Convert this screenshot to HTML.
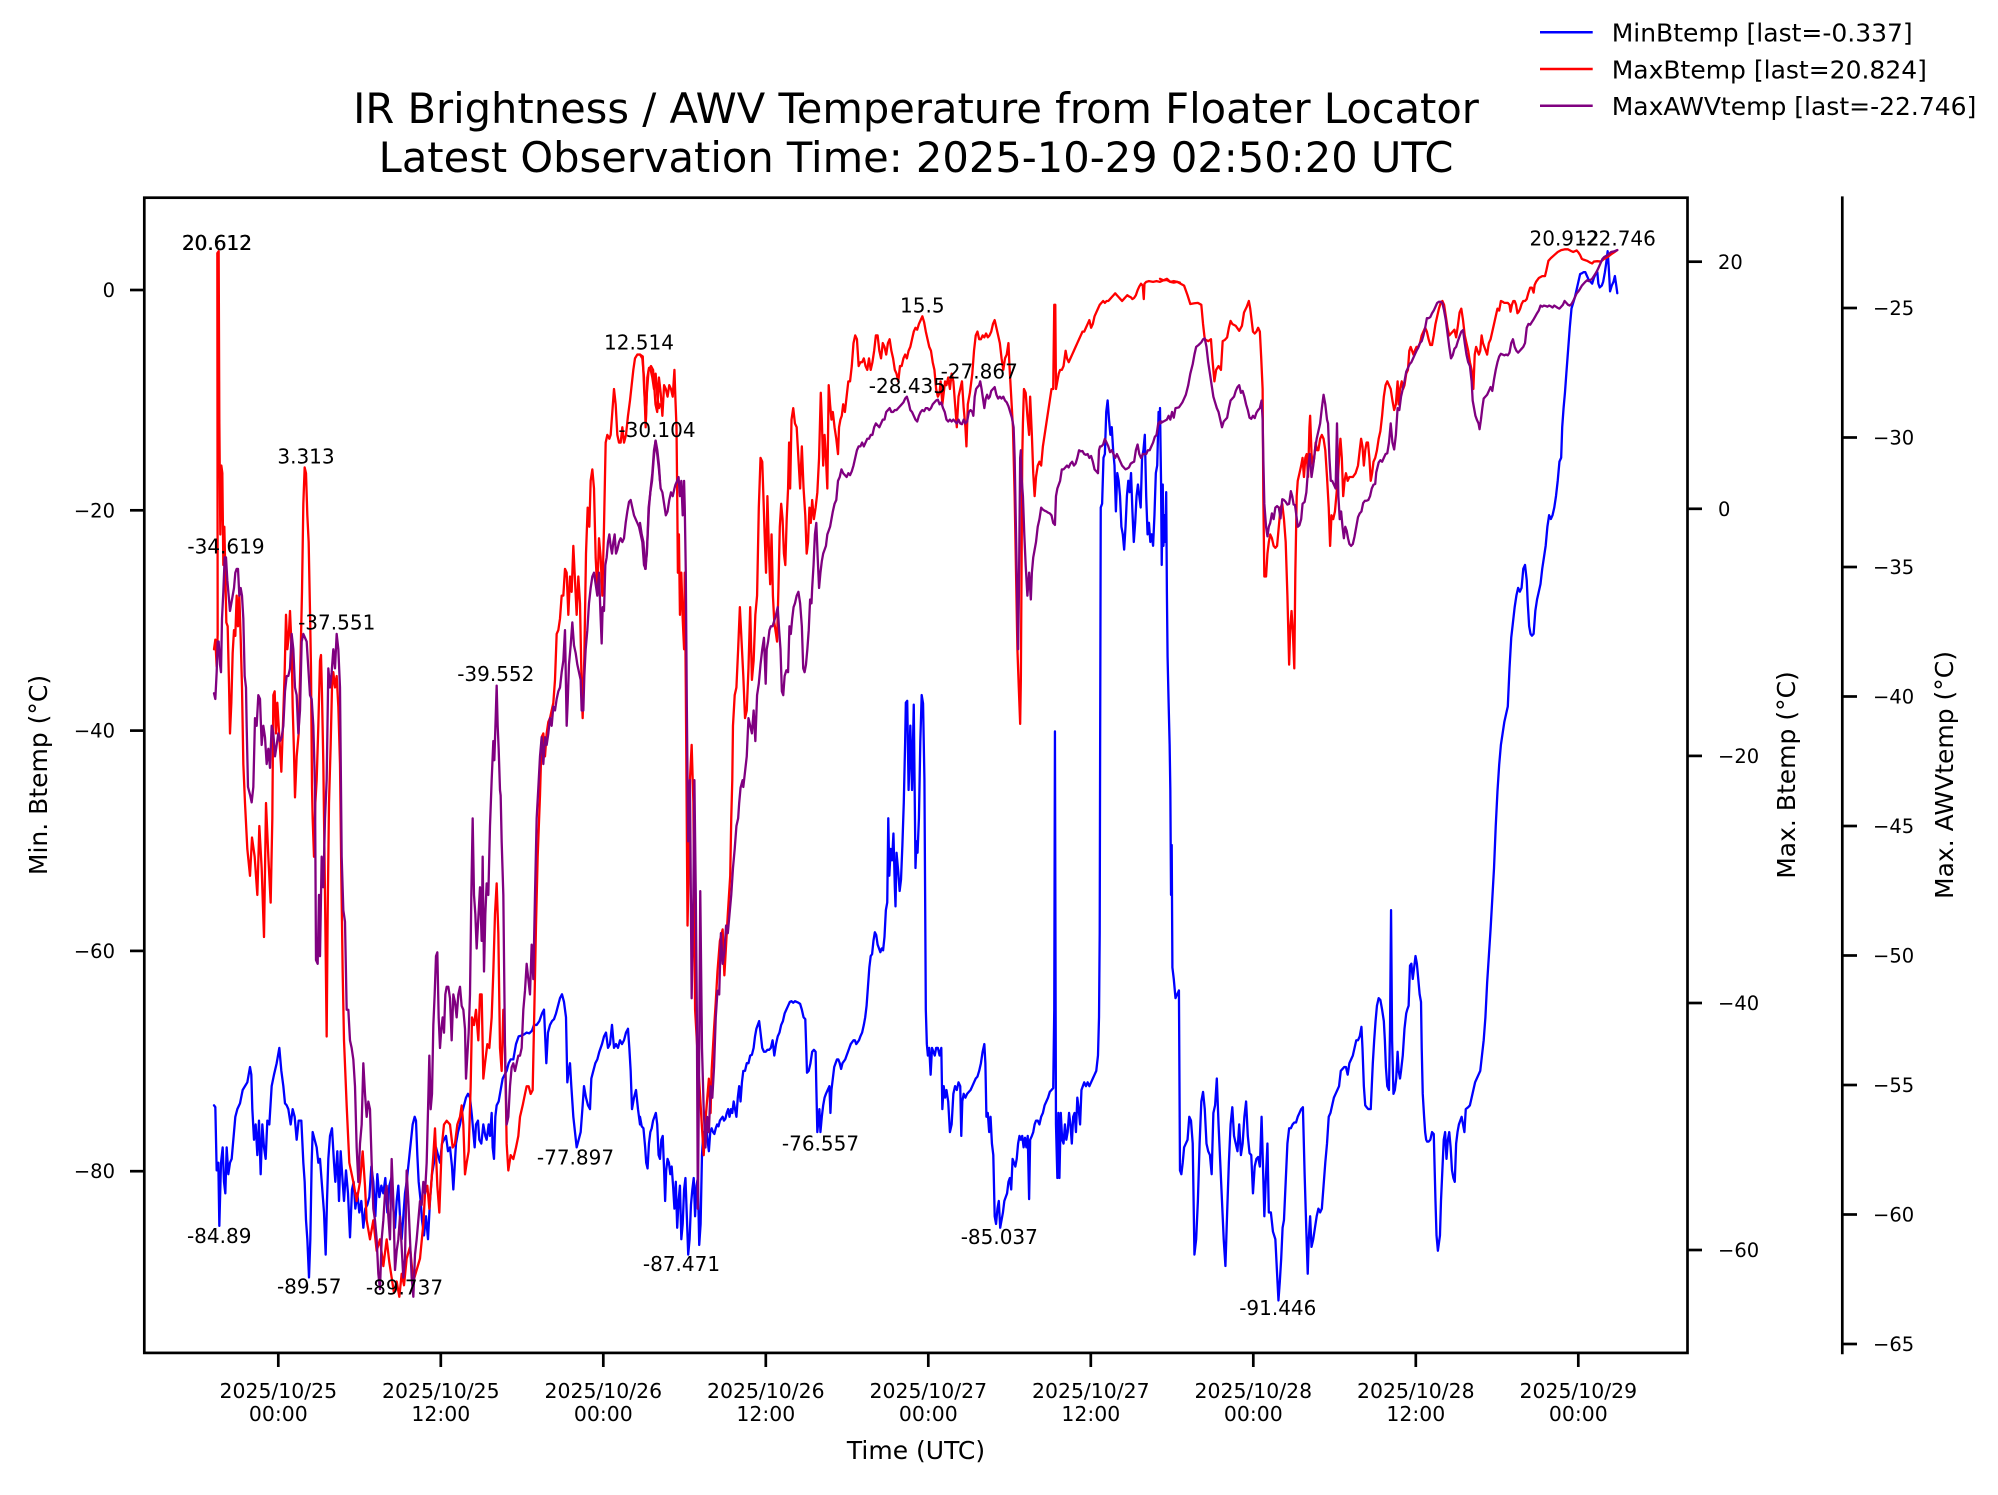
<!DOCTYPE html>
<html><head><meta charset="utf-8"><style>
html,body{margin:0;padding:0;background:#fff;}
svg{display:block;}
text{font-family:"DejaVu Sans","Liberation Sans",sans-serif;fill:#000;}
.tk{font-size:19.5px;}
.tx{font-size:20.4px;}
.an{font-size:20px;}
.lb{font-size:25px;}
.sp{stroke:#000;stroke-width:2.7;fill:none;}
.b,.r,.p{fill:none;stroke-width:2.3;stroke-linejoin:round;stroke-linecap:round;vector-effect:non-scaling-stroke;}
.b{stroke:#0000ff;}.r{stroke:#ff0000;}.p{stroke:#800080;}
</style></head><body>
<svg width="1998" height="1495" viewBox="0 0 1998 1495" xmlns="http://www.w3.org/2000/svg">
<rect width="1998" height="1495" fill="#fff"/>
<defs><clipPath id="c"><rect x="144.3" y="197.7" width="1543.2" height="1155.2"/></clipPath></defs>

<text x="916" y="123" text-anchor="middle" style="font-size:41.6px">IR Brightness / AWV Temperature from Floater Locator</text>
<text x="916" y="172" text-anchor="middle" style="font-size:41.6px">Latest Observation Time: 2025-10-29 02:50:20 UTC</text>

<g clip-path="url(#c)">
<!-- BLUE -->
<g transform="translate(140,780) scale(0.33333,0.38270)">
<polyline class="b" points="222,850 226,855 230,1020 235,1000 238,1165 243,1000 248,960 252,1050 256,1080 260,960 265,1030 270,1000 275,990 280,940 286,880 292,860 300,845 308,810 315,800 322,790 330,750 334,770 337,860 342,940 347,900 352,980 357,890 362,1030 367,900 372,960 377,990 382,890 388,900 395,800 402,770 410,740 418,700 424,760 430,800 435,845 440,850 445,860 452,900 458,860 464,880 470,940 476,890 484,890 490,1000 494,1050 498,1150 502,1200 507,1300 511,1200 515,1000 518,920 524,940 530,960 535,1000 540,990 546,1060 552,1130 557,1240 561,1100 565,990 570,930 576,910 582,1000 586,1050 592,970 597,1100 602,970 608,1050 612,1100 618,1020 624,1080 630,1195 636,1070 641,1050 646,1120 652,1080 658,1130 664,1100 670,1170 676,1120 682,1110 688,1090 694,1010 700,1050 706,1140 712,1030 718,1090 724,1060 730,1080 736,1040 742,1130 748,1060 754,1040 760,1120 765,1170 770,1100 775,1060 780,1140 785,1200 790,1140 795,1080 800,1050 806,1000 812,950 818,900 824,880 828,890 832,980 836,1050 842,1100 846,1150 852,1190 858,1140 864,1200 870,1100 876,1030 882,1000 888,960 894,980 900,1000 906,950 912,940 918,930 924,970 930,960 936,1010 940,1070 944,1010 948,950 954,920 960,900 966,870 972,850 978,830 984,820 990,830 996,880 1000,920 1004,960 1008,900 1014,890 1018,940 1024,950 1030,900 1036,930 1040,940 1046,900 1050,930 1055,870 1058,960 1062,990 1066,880 1070,850 1076,840 1082,810 1088,780 1094,770 1100,760 1106,740 1112,730 1120,730 1128,690 1136,670 1144,668 1152,665 1160,660 1168,662 1176,655 1182,640 1190,640 1198,630 1206,610 1212,600 1216,680 1219,740 1224,660 1230,640 1236,630 1242,625 1248,610 1254,590 1260,570 1266,560 1272,580 1278,620 1282,790 1286,760 1290,740 1294,800 1300,880 1305,920 1310,960 1316,940 1322,920 1328,850 1332,800 1338,830 1344,850 1350,860 1354,780 1360,760 1366,740 1372,730 1378,710 1386,690 1392,670 1398,660 1404,700 1410,690 1416,640 1422,700 1428,690 1434,700 1440,680 1446,690 1452,680 1458,660 1464,650 1468,700 1472,760 1476,860 1482,830 1488,810 1494,860 1500,900"/>
</g>
<g transform="translate(640,780) scale(0.34435,0.38270)">
<polyline class="b" points="0,880 5,905 10,910 15,960 18,1000 22,1015 26,950 30,920 34,910 38,890 42,880 46,870 50,900 54,980 58,990 62,940 66,930 70,1020 73,1100 76,1020 80,990 84,1000 88,1030 92,1010 96,1060 100,1120 104,1050 108,1170 112,1100 116,1060 120,1200 124,1160 128,1070 132,1040 136,1140 140,1240 144,1200 148,1110 152,1070 156,1040 160,1140 164,1060 168,1040 172,1215 176,1160 180,980 184,920 188,930 192,900 196,940 200,970 204,920 208,910 212,920 216,925 220,910 224,900 228,905 232,890 236,885 240,880 244,890 248,885 252,870 256,860 260,880 264,860 268,870 272,840 276,860 280,880 284,830 288,800 292,840 296,790 300,760 305,760 310,740 315,740 320,720 325,718 330,700 334,670 338,650 342,640 346,630 350,660 355,700 360,710 365,710 370,705 375,705 380,700 385,680 390,720 395,690 400,670 405,660 410,640 415,630 420,610 425,600 430,590 435,580 440,578 445,582 450,578 455,580 460,582 465,585 470,600 475,620 480,625 482,680 485,765 490,760 495,740 500,710 505,705 510,710 512,800 515,920 518,890 521,860 524,920 528,880 532,850 536,830 540,820 545,810 550,800 553,870 556,810 560,780 564,750 568,740 572,730 576,730 580,740 584,755 588,740 592,735 596,730 600,720 604,710 608,700 612,690 616,685 620,680 624,680 628,690 632,685 636,680 640,670 645,660 650,640 654,620 658,590 662,540 666,490 670,460 674,455 678,420 682,398 686,405 690,430 694,440 698,450 702,440 706,445 710,410 714,340 718,320 721,100 724,250 728,180 732,210 736,140 740,280 742,330 745,190 750,240 754,290 758,260 762,170 766,60 770,-100 772,-202 776,-207 780,26 785,-142 790,26 795,-197 800,230 803,160 806,190 810,100 814,-100 818,-222 822,-200 826,0 828,300 830,600 833,690 836,720 840,700 844,770 848,700 852,710 856,720 860,700 865,700 870,720 875,700 878,860 882,800 886,830 890,810 895,840 900,920 905,900 910,820 915,800 920,810 925,790 930,800 933,930 936,840 940,820 945,830 950,820 955,815 960,810 965,800 970,790 975,780 980,775 985,760 990,740 995,710 1000,690 1003,740 1006,880 1010,870 1014,920 1018,880 1022,950 1026,980 1030,1140 1034,1160 1038,1120 1042,1100 1046,1170 1050,1150 1054,1130 1058,1100 1062,1090 1066,1080 1070,1050 1074,1040 1078,1070 1082,990 1086,1000 1090,1010 1094,990 1098,950 1102,930 1106,940 1110,930 1114,960 1118,935 1122,960 1126,930 1130,1095 1133,940 1138,930 1142,920 1146,900 1150,890 1155,890 1160,900 1165,880 1170,870 1175,850 1180,840 1185,830 1190,815 1195,810 1200,805 1203,600 1205,-127 1207,600 1208,900 1212,1040 1215,870 1218,1040 1222,870 1226,940 1230,950 1234,900 1238,940 1242,920 1246,870 1250,900 1254,950 1258,880 1262,870 1266,920 1270,830 1274,860 1278,900 1282,810 1286,800 1290,790 1295,800 1300,790 1305,800 1310,790 1315,780 1320,770 1325,760 1330,720 1333,620 1335,400 1336,0 1338,-712 1342,-722 1346,-842 1350,-852 1354,-962 1358,-992 1362,-942 1366,-902 1370,-922 1374,-862 1378,-822 1382,-702 1386,-802 1390,-782 1394,-742 1398,-662 1402,-642 1406,-602 1410,-662 1414,-742 1418,-782 1422,-752 1426,-802 1430,-702 1434,-622 1438,-672 1442,-742 1446,-772 1450,-742 1454,-712 1458,-842 1462,-862 1466,-902 1470,-742 1474,-642 1478,-672 1482,-622 1486,-642 1490,-612 1494,-692 1498,-802 1502,-822 1506,-962"/>
</g>
<g transform="translate(1160,780) scale(0.34435,0.38270)">
<polyline class="b" points="0,-972 3,-782 5,-562 8,-772 10,-612 13,-692 16,-622 18,-752 20,-492 22,-322 25,-202 28,-92 30,26 32,300 34,170 36,490 40,520 45,570 50,560 55,550 58,1020 62,1030 66,1000 70,960 75,950 80,940 85,880 90,890 95,950 100,1240 105,1200 110,1100 115,950 120,840 125,815 130,860 135,950 140,970 145,980 150,1030 155,870 160,850 165,780 170,900 175,1000 180,1100 185,1200 190,1270 195,1130 200,1000 205,900 210,855 215,930 220,950 225,970 230,900 235,980 240,950 245,880 250,840 255,930 260,975 265,980 270,1080 275,1010 280,990 285,985 290,1010 295,880 300,1040 303,1140 307,1050 312,950 316,1130 322,1130 328,1180 335,1200 340,1290 344,1360 348,1310 352,1250 356,1170 360,1150 365,1050 370,950 375,910 380,910 385,900 390,895 395,895 400,880 405,870 410,860 415,855 420,1030 425,1180 429,1290 432,1200 436,1140 440,1220 445,1200 450,1170 455,1140 460,1120 465,1130 470,1120 475,1060 480,1000 485,950 490,880 495,870 500,850 505,830 510,820 515,810 520,800 525,760 530,755 535,750 540,750 545,770 550,740 555,730 560,720 565,700 570,680 575,680 580,670 585,645 588,700 592,800 596,850 600,855 605,860 612,860 615,800 618,740 622,680 626,630 630,590 635,570 640,575 645,600 650,630 653,680 656,750 660,800 665,810 668,650 671,340 674,680 678,820 682,810 686,780 690,710 693,760 697,780 700,760 705,720 710,650 715,610 718,600 722,590 726,485 730,480 734,520 738,490 742,460 746,480 750,520 754,560 758,580 760,700 763,820 767,880 770,920 773,940 776,945 780,945 785,940 790,920 795,925 800,1100 803,1190 807,1230 810,1210 813,1190 816,1100 820,1020 824,940 828,920 832,990 836,940 840,920 844,960 848,1020 852,1040 856,1050 860,950 864,920 868,900 872,890 876,880 880,900 884,920 888,860 895,855 900,850 905,830 910,810 915,790 920,780 925,770 930,760 935,720 940,680 945,620 950,530 955,460 960,390 965,310 970,230 975,120 980,30 985,-40 990,-92 995,-122 1000,-152 1005,-172 1010,-192 1015,-292 1020,-372 1025,-412 1030,-452 1035,-482 1040,-502 1045,-492 1050,-502 1055,-552 1060,-562 1065,-522 1068,-462 1072,-402 1076,-382 1080,-377 1085,-382 1090,-442 1095,-472 1100,-492 1105,-512 1110,-552 1115,-582 1120,-612 1125,-662 1130,-692 1135,-682 1140,-692 1145,-712 1150,-742 1155,-782 1160,-832 1165,-842 1168,-922 1172,-972 1176,-1012 1180,-1062 1185,-1122 1190,-1182 1195,-1232 1200,-1247 1205,-1262 1210,-1282 1215,-1302 1220,-1322 1225,-1324 1230,-1327 1235,-1327 1240,-1317 1245,-1307 1250,-1302 1255,-1297 1260,-1312 1265,-1322 1270,-1327 1273,-1297 1277,-1287 1283,-1292 1287,-1302 1292,-1327 1296,-1352 1300,-1382 1303,-1342 1307,-1277 1312,-1292 1317,-1302 1321,-1317 1325,-1292 1328,-1272"/>
</g>

<!-- RED -->
<g transform="translate(140,190) scale(0.33333,0.38270)">
<polyline class="r" points="222,1200 226,1175 230,1245 233,1160 232,165 236,160 238,600 241,900 244,720 247,740 250,980 253,880 256,1000 259,1130 263,1140 267,1290 270,1420 274,1340 278,1210 282,1150 286,1165 290,1060 294,1140 298,1060 302,1170 306,1300 310,1500 315,1602 322,1722 330,1792 336,1692 344,1742 352,1842 358,1662 365,1772 372,1952 378,1602 385,1742 392,1862 397,1642 400,1320 404,1310 408,1420 412,1340 418,1430 424,1520 428,1420 434,1260 438,1110 442,1200 446,1170 450,1100 455,1200 458,1350 462,1470 465,1587 470,1480 476,1420 482,1210 486,1050 490,820 494,725 498,740 502,850 506,920 510,1100 513,1250 516,1560 518,1642 522,1742 526,1602 530,1542 535,1400 540,1230 543,1215 546,1320 550,1500 555,1842 560,2212 563,1892 567,1602 572,1450 576,1300 580,1260 585,1300 590,1270 595,1350 600,1500 604,1792 608,2042 612,2222 620,2392 628,2542 640,2592 650,2642 660,2592 668,2512 675,2602 680,2692 690,2742 700,2692 710,2772 720,2742 730,2812 740,2742 748,2802 755,2842 762,2882 770,2852 778,2892 785,2832 792,2862 800,2792 810,2762 820,2852 830,2822 840,2792 850,2702 855,2622 862,2602 868,2662 875,2582 880,2522 885,2452 892,2602 898,2672 905,2502 912,2442 920,2432 930,2442 938,2502 945,2492 952,2442 960,2422 965,2392 970,2442 975,2572 980,2542 986,2512 992,2342 996,2162 1002,2182 1008,2142 1015,2222 1020,2102 1025,2102 1030,2322 1035,2282 1042,2232 1048,2242 1055,2162 1060,2042 1065,1892 1070,1812 1075,1942 1080,2242 1085,2302 1090,2142 1095,2242 1100,2492 1105,2562 1112,2522 1120,2532 1128,2502 1135,2472 1140,2422 1148,2392 1155,2362 1160,2342 1166,2342 1172,2362 1178,2352 1183,2142 1188,1922 1193,1742 1200,1582 1205,1430 1210,1420 1215,1480 1220,1420 1225,1390 1230,1380 1235,1360 1240,1340 1245,1280 1250,1160 1255,1150 1260,1120 1265,1060 1270,1060 1275,990 1280,1000 1285,1110 1290,1010 1295,1050 1300,930 1305,1020 1310,1110 1315,1010 1320,1080 1325,1300 1328,1380 1333,1220 1338,950 1343,830 1348,880 1352,760 1357,730 1362,780 1367,960 1372,1050 1377,910 1382,960 1387,1060 1392,880 1397,660 1402,640 1408,650 1412,640 1417,580 1422,520 1427,560 1432,640 1437,660 1442,660 1447,620 1452,660 1458,640 1464,590 1470,550 1475,510 1480,470 1485,440 1492,430 1500,430 1507,440 1512,490 1517,620 1522,490 1527,465 1532,470 1537,490 1542,520 1547,480 1552,540 1557,570 1560,560"/>
</g>
<g transform="translate(640,190) scale(0.34435,0.38270)">
<polyline class="r" points="0,430 8,435 12,520 17,600 20,530 25,470 32,460 38,470 45,560 50,580 55,490 60,530 65,590 70,510 75,520 80,540 85,510 90,520 95,540 100,470 103,550 106,620 108,790 110,1000 113,900 116,1110 120,1000 124,1120 128,1200 130,1000 133,1300 136,1672 138,1922 142,1742 145,1542 150,1450 155,1600 160,2142 170,2300 180,2450 185,2522 190,2432 200,2322 205,2412 208,2302 215,2192 220,2122 225,2042 232,1962 240,1932 245,2052 250,1972 255,1892 262,1792 265,1642 268,1542 270,1400 275,1320 280,1300 285,1200 290,1090 295,1180 300,1270 305,1380 310,1360 315,1250 320,1090 325,1280 330,1230 335,1110 340,1060 345,830 350,700 355,710 358,790 362,900 366,1000 370,800 375,960 378,1030 382,900 386,1060 390,1130 395,1160 398,1180 402,1040 406,880 410,820 414,860 418,950 422,980 426,860 430,780 433,660 436,780 440,600 445,570 450,610 455,620 460,700 465,780 470,670 475,780 480,850 484,950 488,920 492,830 496,870 500,810 505,860 510,830 515,790 520,700 525,530 528,600 532,720 536,640 540,700 544,780 548,510 552,560 556,600 560,580 565,620 570,650 575,690 578,620 582,600 586,590 590,560 595,580 600,540 605,500 610,500 615,460 620,400 625,380 630,390 635,460 640,450 645,450 650,440 655,460 660,470 665,440 670,470 675,450 680,420 685,380 690,380 695,420 700,440 705,400 710,410 715,430 720,400 725,390 730,420 735,440 740,470 745,480 750,500 755,460 760,460 765,440 770,430 775,440 780,420 785,410 790,390 795,370 800,360 805,365 810,350 815,340 820,330 825,345 830,370 835,390 840,410 845,420 850,450 855,470 860,520 865,540 870,530 873,500 878,560 882,530 886,500 890,510 895,490 900,520 905,480 910,500 915,560 920,620 925,540 930,520 935,500 940,570 945,620 948,670 952,560 958,530 965,480 970,420 975,380 980,370 985,390 990,390 995,380 1000,385 1005,375 1010,385 1015,380 1020,370 1025,350 1030,340 1035,360 1040,380 1045,400 1050,440 1055,470 1060,440 1065,430 1070,400 1073,460 1078,540 1083,620 1088,800 1092,1000 1096,1200 1100,1300 1104,1395 1106,1280 1108,1000 1110,700 1112,610 1115,520 1120,530 1125,590 1130,640 1133,540 1138,640 1142,740 1146,800 1150,750 1155,720 1160,710 1165,720 1170,670 1175,640 1180,610 1185,580 1190,550 1195,520 1200,520 1203,300 1206,300 1208,520 1212,500 1216,480 1220,470 1225,470 1230,460 1236,420 1240,440 1245,450 1250,440 1255,430 1260,420 1265,410 1270,400 1275,390 1280,380 1285,370 1290,370 1295,360 1300,350 1305,340 1310,360 1315,350 1320,330 1325,320 1330,310 1335,300 1340,295 1345,290 1350,295 1355,290 1360,290 1365,285 1370,280 1375,275 1380,270 1385,275 1390,280 1395,285 1400,290 1405,285 1410,280 1415,275 1420,278 1425,280 1430,285 1435,282 1440,275 1445,262 1450,252 1455,245 1460,250 1463,285 1465,245 1470,240 1478,238 1490,240 1500,238 1510,240 1520,236 1530,235 1540,240 1550,242 1560,240 1568,242"/>
</g>
<g transform="translate(1160,190) scale(0.34435,0.38270)">
<polyline class="r" points="0,232 10,236 20,232 30,240 40,238 50,240 60,245 70,250 80,275 88,298 100,296 110,295 120,300 125,350 130,390 140,395 148,390 152,440 158,500 163,470 170,460 177,470 182,395 188,392 195,385 200,360 205,342 210,350 220,355 230,368 238,355 244,320 252,305 258,290 262,310 266,340 270,370 275,375 280,370 285,360 290,370 294,440 298,520 300,800 303,1010 308,1010 312,950 316,920 320,900 325,910 330,930 335,935 340,930 345,880 350,830 355,820 360,860 365,920 370,1060 375,1240 378,1150 382,1100 386,1160 390,1250 393,1000 397,800 400,760 405,740 410,720 414,700 418,750 422,700 426,690 430,750 434,620 436,590 440,690 444,720 448,700 452,660 456,680 460,680 465,650 470,640 475,650 480,680 485,750 490,830 494,930 498,850 503,860 508,840 512,800 516,760 520,700 524,650 528,700 532,800 536,760 540,740 545,760 550,750 560,750 568,740 575,720 580,680 584,650 588,670 592,720 596,680 600,660 604,660 608,700 612,760 616,740 620,710 625,700 630,680 635,650 640,630 645,590 650,540 655,510 660,500 665,510 670,520 675,550 680,575 685,560 690,500 693,560 697,520 702,500 706,520 710,510 715,480 720,470 724,420 728,410 732,420 736,430 740,420 745,410 750,410 755,400 760,380 765,370 770,360 775,370 780,390 785,405 790,405 795,380 800,350 805,330 810,310 815,295 820,290 825,300 830,330 835,360 840,380 845,375 850,370 855,365 860,385 865,355 870,320 875,310 880,340 885,380 890,400 895,420 900,450 905,470 910,520 914,430 918,410 922,420 926,430 930,420 934,380 938,400 942,410 946,420 950,430 955,400 960,390 965,370 970,350 975,330 980,310 985,315 990,290 995,292 1000,295 1005,295 1010,295 1015,300 1018,318 1022,300 1026,290 1030,290 1034,300 1038,322 1042,318 1046,310 1050,298 1055,290 1060,290 1065,285 1070,268 1075,255 1080,255 1085,268 1088,248 1092,240 1100,230 1110,225 1118,225 1122,210 1128,185 1135,178 1145,170 1155,162 1165,157 1175,155 1185,155 1195,160 1200,162 1205,160 1210,158 1215,163 1220,170 1225,180 1230,182 1240,185 1250,190 1255,192 1260,187 1270,186 1280,187 1290,180 1300,175 1310,168 1320,162 1328,157"/>
</g>

<!-- PURPLE -->
<g transform="translate(140,190) scale(0.33333,0.38270)">
<polyline class="p" points="222,1315 226,1330 230,1260 233,1180 236,1180 240,1240 243,1260 246,1120 250,1050 254,960 258,960 262,1020 266,1060 270,1100 274,1080 278,1060 282,1040 286,1000 290,990 294,990 298,1060 302,1040 306,1060 310,1120 314,1270 318,1300 320,1400 324,1560 330,1580 335,1600 340,1560 345,1380 350,1400 355,1320 360,1330 365,1450 370,1400 375,1430 380,1500 385,1460 390,1510 395,1400 400,1420 405,1480 410,1450 415,1420 420,1440 425,1430 430,1400 435,1310 440,1270 445,1270 450,1250 455,1160 460,1200 465,1300 470,1320 475,1420 480,1360 485,1180 490,1160 495,1170 500,1180 505,1250 510,1320 515,1330 520,1400 525,1560 528,2012 533,2022 537,1842 540,2002 545,1742 550,1822 555,1642 560,1542 565,1250 570,1300 575,1260 580,1200 585,1250 590,1160 595,1200 600,1300 605,1742 610,1882 615,1912 620,2142 625,2142 630,2222 635,2242 640,2272 645,2342 650,2502 655,2592 660,2492 665,2442 670,2282 675,2362 680,2422 685,2382 690,2402 695,2542 700,2662 705,2692 710,2742 715,2832 720,2872 725,2742 730,2692 735,2622 740,2602 745,2682 750,2742 755,2532 760,2642 765,2822 770,2772 775,2742 780,2682 785,2762 790,2842 795,2792 800,2562 805,2642 810,2742 815,2842 820,2892 825,2782 830,2742 835,2692 840,2642 845,2652 850,2592 855,2622 860,2542 865,2372 868,2262 872,2402 876,2362 880,2182 884,2102 888,2002 892,1992 896,2162 900,2242 904,2192 908,2162 912,2202 916,2102 920,2082 925,2082 930,2112 935,2222 940,2102 945,2122 950,2162 955,2102 960,2082 965,2132 970,2142 975,2192 978,2322 982,2262 986,2202 990,2102 994,1842 998,1642 1002,1842 1006,1892 1010,1982 1015,1902 1020,1822 1025,1962 1028,1742 1032,2042 1036,1892 1040,1812 1045,1842 1050,1662 1055,1542 1060,1440 1063,1490 1067,1380 1070,1295 1073,1400 1076,1460 1080,1568 1082,1582 1085,1702 1090,1842 1095,2242 1100,2442 1105,2422 1110,2342 1115,2292 1120,2282 1125,2302 1130,2282 1135,2262 1140,2262 1145,2242 1150,2142 1155,2092 1160,2022 1165,2062 1170,2102 1175,1972 1180,2062 1185,1842 1190,1642 1195,1562 1200,1480 1205,1430 1210,1500 1215,1430 1220,1450 1225,1420 1230,1380 1235,1400 1240,1350 1245,1360 1250,1330 1255,1310 1260,1300 1265,1260 1270,1230 1275,1150 1280,1400 1283,1340 1287,1240 1292,1190 1297,1130 1302,1190 1307,1210 1312,1240 1317,1260 1322,1280 1325,1360 1330,1360 1333,1270 1337,1200 1342,1150 1347,1080 1352,1040 1357,1010 1362,1000 1367,1030 1372,1060 1377,1000 1382,1120 1385,1185 1388,1090 1392,1100 1396,980 1400,960 1404,920 1408,900 1412,930 1416,950 1420,920 1424,900 1428,950 1432,940 1437,920 1442,910 1447,920 1452,910 1457,870 1462,840 1467,815 1472,810 1477,830 1482,850 1487,860 1492,870 1497,880 1502,900 1507,920 1512,980 1517,990 1522,920 1527,830 1532,780 1537,740 1542,680 1547,655 1552,680 1557,720 1560,760"/>
</g>
<g transform="translate(640,190) scale(0.34435,0.38270)">
<polyline class="p" points="0,870 5,900 10,920 15,990 20,950 25,830 30,790 35,760 40,700 45,655 50,690 55,730 60,780 65,790 70,820 75,850 80,840 85,810 90,790 95,800 100,780 103,770 108,760 112,750 116,800 120,760 124,850 128,760 130,830 133,1000 136,1350 138,1542 140,1702 145,1542 150,2112 155,1842 158,1542 162,1842 165,2142 168,2662 172,2242 175,1832 180,2242 185,2402 190,2502 195,2422 200,2462 205,2342 210,2372 215,2292 220,2162 225,2092 230,2102 235,1942 240,2022 245,1992 250,1922 255,1942 260,1892 265,1842 270,1772 275,1722 280,1662 285,1642 288,1602 292,1562 298,1542 300,1560 305,1520 310,1480 315,1380 320,1400 325,1420 330,1360 335,1440 340,1320 345,1290 350,1240 355,1200 360,1170 365,1290 368,1200 372,1180 376,1150 380,1140 385,1140 390,1125 395,1110 400,1090 404,1150 408,1200 412,1310 416,1320 420,1270 425,1255 430,1260 434,1140 438,1160 442,1120 446,1090 450,1080 455,1060 460,1050 465,1080 470,1140 474,1250 478,1260 482,1240 486,1200 490,1150 494,1070 498,1080 500,1040 504,980 508,900 512,870 516,960 520,1040 524,1000 528,970 532,950 536,940 540,930 544,900 548,890 552,880 556,860 560,840 565,820 570,810 575,760 580,750 585,730 590,740 595,745 600,750 605,740 610,745 615,735 620,720 625,700 630,680 635,670 640,670 645,660 650,670 655,660 660,650 665,650 670,640 675,640 680,620 685,610 690,615 695,620 700,610 705,600 710,600 715,580 720,575 725,570 730,580 735,580 740,575 745,575 750,570 755,565 760,560 765,555 770,545 775,540 780,555 785,575 790,580 795,590 800,600 805,605 810,590 815,580 820,575 825,578 830,570 835,570 840,575 845,570 850,560 855,555 860,550 865,548 870,560 875,555 880,570 885,580 890,600 895,605 900,600 905,605 910,600 915,605 920,610 925,600 930,610 935,612 940,600 945,610 950,605 955,580 960,575 965,580 968,590 972,540 976,520 980,515 985,510 988,500 992,520 996,545 1000,570 1004,545 1008,535 1012,545 1016,540 1020,525 1025,520 1030,515 1035,535 1040,545 1045,540 1050,545 1055,540 1060,550 1065,555 1070,565 1075,580 1080,595 1085,620 1088,700 1092,900 1096,1100 1098,1200 1100,1080 1104,700 1106,680 1108,750 1112,800 1116,900 1120,980 1125,1060 1130,1000 1135,1070 1138,1000 1142,960 1146,940 1150,920 1155,880 1160,860 1165,830 1170,835 1175,838 1180,840 1185,843 1190,845 1195,850 1200,870 1205,875 1208,800 1212,780 1216,770 1220,760 1225,730 1230,730 1235,725 1240,720 1245,725 1250,715 1255,710 1260,720 1265,715 1270,700 1275,680 1280,683 1285,682 1290,690 1295,692 1300,690 1305,700 1310,695 1315,710 1320,730 1325,735 1330,740 1333,680 1336,670 1340,670 1345,665 1350,650 1355,660 1360,670 1365,685 1370,680 1375,690 1380,700 1385,690 1390,700 1395,710 1400,720 1405,725 1410,730 1415,728 1420,725 1425,715 1430,712 1435,710 1440,680 1445,665 1450,690 1455,700 1460,690 1465,690 1470,690 1475,680 1480,680 1485,670 1490,660 1495,645 1500,640 1505,610 1510,605 1515,605"/>
</g>
<g transform="translate(1160,190) scale(0.34435,0.38270)">
<polyline class="p" points="0,610 10,605 20,600 25,590 30,600 35,580 40,595 45,570 55,568 65,555 70,545 75,535 82,510 88,480 95,455 100,430 105,410 112,405 120,398 125,390 130,388 135,410 140,450 145,480 150,510 155,540 160,555 165,570 170,580 175,600 180,620 185,605 190,600 195,595 200,570 205,550 210,545 215,540 220,525 225,515 230,510 235,530 240,525 245,540 250,560 255,575 260,595 265,598 270,590 275,596 280,582 285,575 290,570 295,550 298,600 300,700 303,820 308,880 312,905 316,880 320,870 325,845 330,860 335,830 340,826 345,830 350,858 355,808 360,810 365,815 370,822 375,820 380,787 384,800 388,822 392,823 396,850 400,880 405,876 410,860 414,820 420,815 425,790 430,730 435,690 440,750 445,720 450,680 455,650 460,630 465,610 470,570 475,535 480,560 485,600 488,610 492,700 496,760 500,760 505,770 510,780 514,610 518,800 522,860 526,840 530,880 534,910 538,880 542,890 546,910 550,925 555,930 560,925 565,905 570,880 575,855 580,845 585,840 590,818 595,812 600,812 605,810 610,800 615,780 620,770 625,768 628,738 635,712 640,706 645,710 650,700 655,690 660,688 665,660 670,610 675,660 680,678 685,640 690,570 695,575 700,540 705,520 710,500 715,475 720,465 725,455 730,450 735,440 740,430 745,420 750,412 755,400 760,395 765,380 770,360 775,335 780,335 785,332 790,322 795,315 800,305 805,295 810,292 815,292 820,295 825,315 830,340 835,375 840,410 845,440 850,432 855,415 860,410 865,395 870,382 875,370 880,366 885,400 890,430 895,450 900,460 905,500 908,550 912,570 916,590 920,600 925,610 928,625 932,600 936,570 940,545 945,540 950,535 955,525 960,515 965,525 970,495 975,470 980,450 985,435 990,428 995,430 1000,432 1005,430 1010,432 1015,425 1020,400 1025,390 1030,410 1035,420 1040,425 1045,420 1050,415 1055,410 1060,400 1065,360 1070,350 1075,352 1080,345 1085,338 1090,330 1095,322 1100,315 1105,302 1110,305 1115,302 1120,303 1125,305 1130,302 1135,304 1140,307 1145,302 1150,305 1155,308 1160,310 1165,305 1170,300 1175,290 1180,295 1185,300 1190,302 1195,298 1200,290 1205,280 1210,270 1215,265 1220,258 1225,250 1230,245 1235,240 1240,236 1245,238 1250,235 1255,232 1260,225 1265,218 1270,210 1275,200 1280,190 1285,180 1290,175 1300,170 1310,162 1320,160 1328,157"/>
</g>
</g>

<!-- annotations -->
<g text-anchor="middle">
<text class="an" x="216.7" y="250">20.612</text>
<text class="an" x="217.2" y="250">20.612</text>
<text class="an" x="306" y="463.6">3.313</text>
<text class="an" x="226" y="553.6">-34.619</text>
<text class="an" x="336.7" y="629.3">-37.551</text>
<text class="an" x="495.8" y="681">-39.552</text>
<text class="an" x="639" y="349.6">12.514</text>
<text class="an" x="657" y="436.8">-30.104</text>
<text class="an" x="922.3" y="312.5">15.5</text>
<text class="an" x="907.4" y="392.8">-28.435</text>
<text class="an" x="979.2" y="378.7">-27.867</text>
<text class="an" x="1564.5" y="245.5">20.912</text>
<text class="an" x="1617.3" y="245.5">-22.746</text>
<text class="an" x="219.2" y="1243">-84.89</text>
<text class="an" x="309.2" y="1293.6">-89.57</text>
<text class="an" x="404.5" y="1294.7">-89.737</text>
<text class="an" x="575.5" y="1164.6">-77.897</text>
<text class="an" x="681.5" y="1271">-87.471</text>
<text class="an" x="820.5" y="1150.5">-76.557</text>
<text class="an" x="999.3" y="1244.2">-85.037</text>
<text class="an" x="1277.8" y="1315">-91.446</text>
</g>

<!-- spines -->
<rect class="sp" x="144.3" y="197.7" width="1543.2" height="1155.2"/>
<line class="sp" x1="1842.3" y1="196.4" x2="1842.3" y2="1354.2"/>

<!-- ticks -->
<g class="sp">
<line x1="130" y1="290" x2="144" y2="290"/><line x1="130" y1="510.3" x2="144" y2="510.3"/><line x1="130" y1="730.6" x2="144" y2="730.6"/><line x1="130" y1="950.9" x2="144" y2="950.9"/><line x1="130" y1="1171.2" x2="144" y2="1171.2"/>
<line x1="1687" y1="261.7" x2="1702" y2="261.7"/><line x1="1687" y1="508.8" x2="1702" y2="508.8"/><line x1="1687" y1="755.9" x2="1702" y2="755.9"/><line x1="1687" y1="1003" x2="1702" y2="1003"/><line x1="1687" y1="1250" x2="1702" y2="1250"/>
<line x1="1842" y1="308" x2="1857" y2="308"/><line x1="1842" y1="437.5" x2="1857" y2="437.5"/><line x1="1842" y1="567" x2="1857" y2="567"/><line x1="1842" y1="696.5" x2="1857" y2="696.5"/><line x1="1842" y1="826" x2="1857" y2="826"/><line x1="1842" y1="955.5" x2="1857" y2="955.5"/><line x1="1842" y1="1085" x2="1857" y2="1085"/><line x1="1842" y1="1214.5" x2="1857" y2="1214.5"/><line x1="1842" y1="1344" x2="1857" y2="1344"/>
<line x1="278.3" y1="1353" x2="278.3" y2="1367"/><line x1="440.8" y1="1353" x2="440.8" y2="1367"/><line x1="603.3" y1="1353" x2="603.3" y2="1367"/><line x1="765.8" y1="1353" x2="765.8" y2="1367"/><line x1="928.3" y1="1353" x2="928.3" y2="1367"/><line x1="1090.8" y1="1353" x2="1090.8" y2="1367"/><line x1="1253.3" y1="1353" x2="1253.3" y2="1367"/><line x1="1415.8" y1="1353" x2="1415.8" y2="1367"/><line x1="1578.3" y1="1353" x2="1578.3" y2="1367"/>
</g>

<g text-anchor="end">
<text class="tk" x="115" y="297">0</text>
<text class="tk" x="115" y="517.3">−20</text>
<text class="tk" x="115" y="737.6">−40</text>
<text class="tk" x="115" y="957.9">−60</text>
<text class="tk" x="115" y="1178.2">−80</text>
</g>
<g>
<text class="tk" x="1718" y="268.8">20</text>
<text class="tk" x="1718" y="515.9">0</text>
<text class="tk" x="1718" y="763">−20</text>
<text class="tk" x="1718" y="1010.1">−40</text>
<text class="tk" x="1718" y="1257.1">−60</text>
<text class="tk" x="1873" y="315.1">−25</text>
<text class="tk" x="1873" y="444.6">−30</text>
<text class="tk" x="1873" y="574.1">−35</text>
<text class="tk" x="1873" y="703.6">−40</text>
<text class="tk" x="1873" y="833.1">−45</text>
<text class="tk" x="1873" y="962.6">−50</text>
<text class="tk" x="1873" y="1092.1">−55</text>
<text class="tk" x="1873" y="1221.6">−60</text>
<text class="tk" x="1873" y="1351.1">−65</text>
</g>
<g text-anchor="middle">
<text class="tx" x="278.3" y="1398">2025/10/25</text><text class="tx" x="278.3" y="1421">00:00</text>
<text class="tx" x="440.8" y="1398">2025/10/25</text><text class="tx" x="440.8" y="1421">12:00</text>
<text class="tx" x="603.3" y="1398">2025/10/26</text><text class="tx" x="603.3" y="1421">00:00</text>
<text class="tx" x="765.8" y="1398">2025/10/26</text><text class="tx" x="765.8" y="1421">12:00</text>
<text class="tx" x="928.3" y="1398">2025/10/27</text><text class="tx" x="928.3" y="1421">00:00</text>
<text class="tx" x="1090.8" y="1398">2025/10/27</text><text class="tx" x="1090.8" y="1421">12:00</text>
<text class="tx" x="1253.3" y="1398">2025/10/28</text><text class="tx" x="1253.3" y="1421">00:00</text>
<text class="tx" x="1415.8" y="1398">2025/10/28</text><text class="tx" x="1415.8" y="1421">12:00</text>
<text class="tx" x="1578.3" y="1398">2025/10/29</text><text class="tx" x="1578.3" y="1421">00:00</text>
<text class="lb" x="916" y="1459">Time (UTC)</text>
<text class="lb" transform="translate(47,775) rotate(-90)">Min. Btemp (°C)</text>
<text class="lb" transform="translate(1795,775) rotate(-90)">Max. Btemp (°C)</text>
<text class="lb" transform="translate(1953,775) rotate(-90)">Max. AWVtemp (°C)</text>
</g>

<!-- legend -->
<line x1="1540" y1="32.3" x2="1592.7" y2="32.3" stroke="#0000ff" stroke-width="2.5"/>
<line x1="1540" y1="69" x2="1592.7" y2="69" stroke="#ff0000" stroke-width="2.5"/>
<line x1="1540" y1="105.7" x2="1592.7" y2="105.7" stroke="#800080" stroke-width="2.5"/>
<text class="lb" x="1611.7" y="41.7">MinBtemp [last=-0.337]</text>
<text class="lb" x="1611.7" y="78.4">MaxBtemp [last=20.824]</text>
<text class="lb" x="1611.7" y="115.1">MaxAWVtemp [last=-22.746]</text>
</svg>
</body></html>
